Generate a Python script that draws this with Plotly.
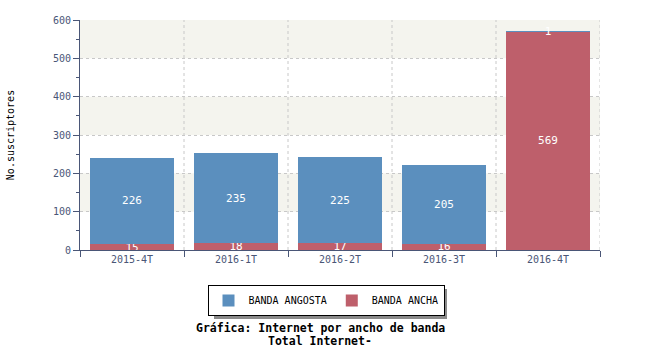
import plotly.graph_objects as go

categories = ["2015-4T", "2016-1T", "2016-2T", "2016-3T", "2016-4T"]
banda_ancha = [15, 18, 17, 16, 569]
banda_angosta = [226, 235, 225, 205, 1]

axis_col = "#4a5677"
font_fam = "DejaVu Sans Mono"

fig = go.Figure()
fig.add_trace(go.Bar(
    x=categories, y=banda_ancha, name="BANDA ANCHA",
    marker=dict(color="#be5f6b", line=dict(width=0)),
    text=[str(v) for v in banda_ancha], textposition="inside",
    insidetextanchor="middle", textangle=0, constraintext="none",
    textfont=dict(color="white", size=11, family=font_fam),
))
fig.add_trace(go.Bar(
    x=categories, y=banda_angosta, name="BANDA ANGOSTA",
    marker=dict(color="#5b8fbe", line=dict(width=0)),
    text=[str(v) for v in banda_angosta], textposition="inside",
    insidetextanchor="middle", textangle=0, constraintext="none",
    textfont=dict(color="white", size=11, family=font_fam),
))

# alternating background bands
shapes = []
for lo in [100, 300, 500]:
    shapes.append(dict(type="rect", xref="paper", yref="y", x0=0, x1=1, y0=lo, y1=lo + 100,
                       fillcolor="#f4f4ee", line=dict(width=0), layer="below"))
# vertical dashed grid at category boundaries
for i in range(1, len(categories) + 1):
    shapes.append(dict(type="line", xref="x", yref="paper", x0=i - 0.5, x1=i - 0.5, y0=0, y1=1,
                       line=dict(color="#c8c8c8", width=1, dash="dot"), layer="below"))

# legend shadow (paper coords: plot area 520 x 230 px, origin at (80, 250))
def px_x(p):
    return (p - 80) / 520.0

def px_y(p):
    return (250 - p) / 230.0

shapes.append(dict(type="rect", xref="paper", yref="paper",
                   x0=px_x(214), x1=px_x(447), y0=px_y(319), y1=px_y(289),
                   fillcolor="#8a8a8a", line=dict(width=0), layer="below"))

fig.update_layout(
    width=650, height=350,
    margin=dict(l=80, r=50, t=20, b=100, autoexpand=False),
    paper_bgcolor="white", plot_bgcolor="white",
    barmode="stack", bargap=0.19,
    font=dict(family=font_fam, size=10, color=axis_col),
    uniformtext=dict(minsize=11, mode="show"),
    showlegend=True,
    legend=dict(orientation="h", x=px_x(326), xanchor="center", y=px_y(285), yanchor="top",
                bordercolor="#000000", borderwidth=1, bgcolor="white",
                traceorder="reversed", font=dict(size=10, color="#000000", family=font_fam),
                itemwidth=30, tracegroupgap=0),
    shapes=shapes,
    xaxis=dict(showgrid=False, showline=True, linecolor=axis_col, linewidth=1,
               ticks="outside", tickcolor=axis_col, ticklen=6, tickson="boundaries",
               tickfont=dict(size=10, color=axis_col), range=[-0.5, 4.5], automargin=False),
    yaxis=dict(range=[0, 600], dtick=100, showgrid=True, gridcolor="#c8c8c8", griddash="dot",
               showline=True, linecolor=axis_col, linewidth=1, ticks="outside", tickcolor=axis_col,
               ticklen=6, zeroline=False, tickfont=dict(size=10, color=axis_col), automargin=False,
               minor=dict(dtick=50, ticks="outside", ticklen=3, tickcolor=axis_col, showgrid=False),
               title=dict(text="No.suscriptores", font=dict(size=10, color="#000000"), standoff=36)),
    annotations=[
        dict(text="<b>Gráfica: Internet por ancho de banda</b>", xref="paper", yref="paper",
             x=px_x(320), y=px_y(319), xanchor="center", yanchor="top", showarrow=False,
             font=dict(size=11.5, color="#000000", family=font_fam)),
        dict(text="<b>Total Internet-</b>", xref="paper", yref="paper",
             x=px_x(320), y=px_y(332), xanchor="center", yanchor="top", showarrow=False,
             font=dict(size=11.5, color="#000000", family=font_fam)),
    ],
)

fig.write_html("out.html")
